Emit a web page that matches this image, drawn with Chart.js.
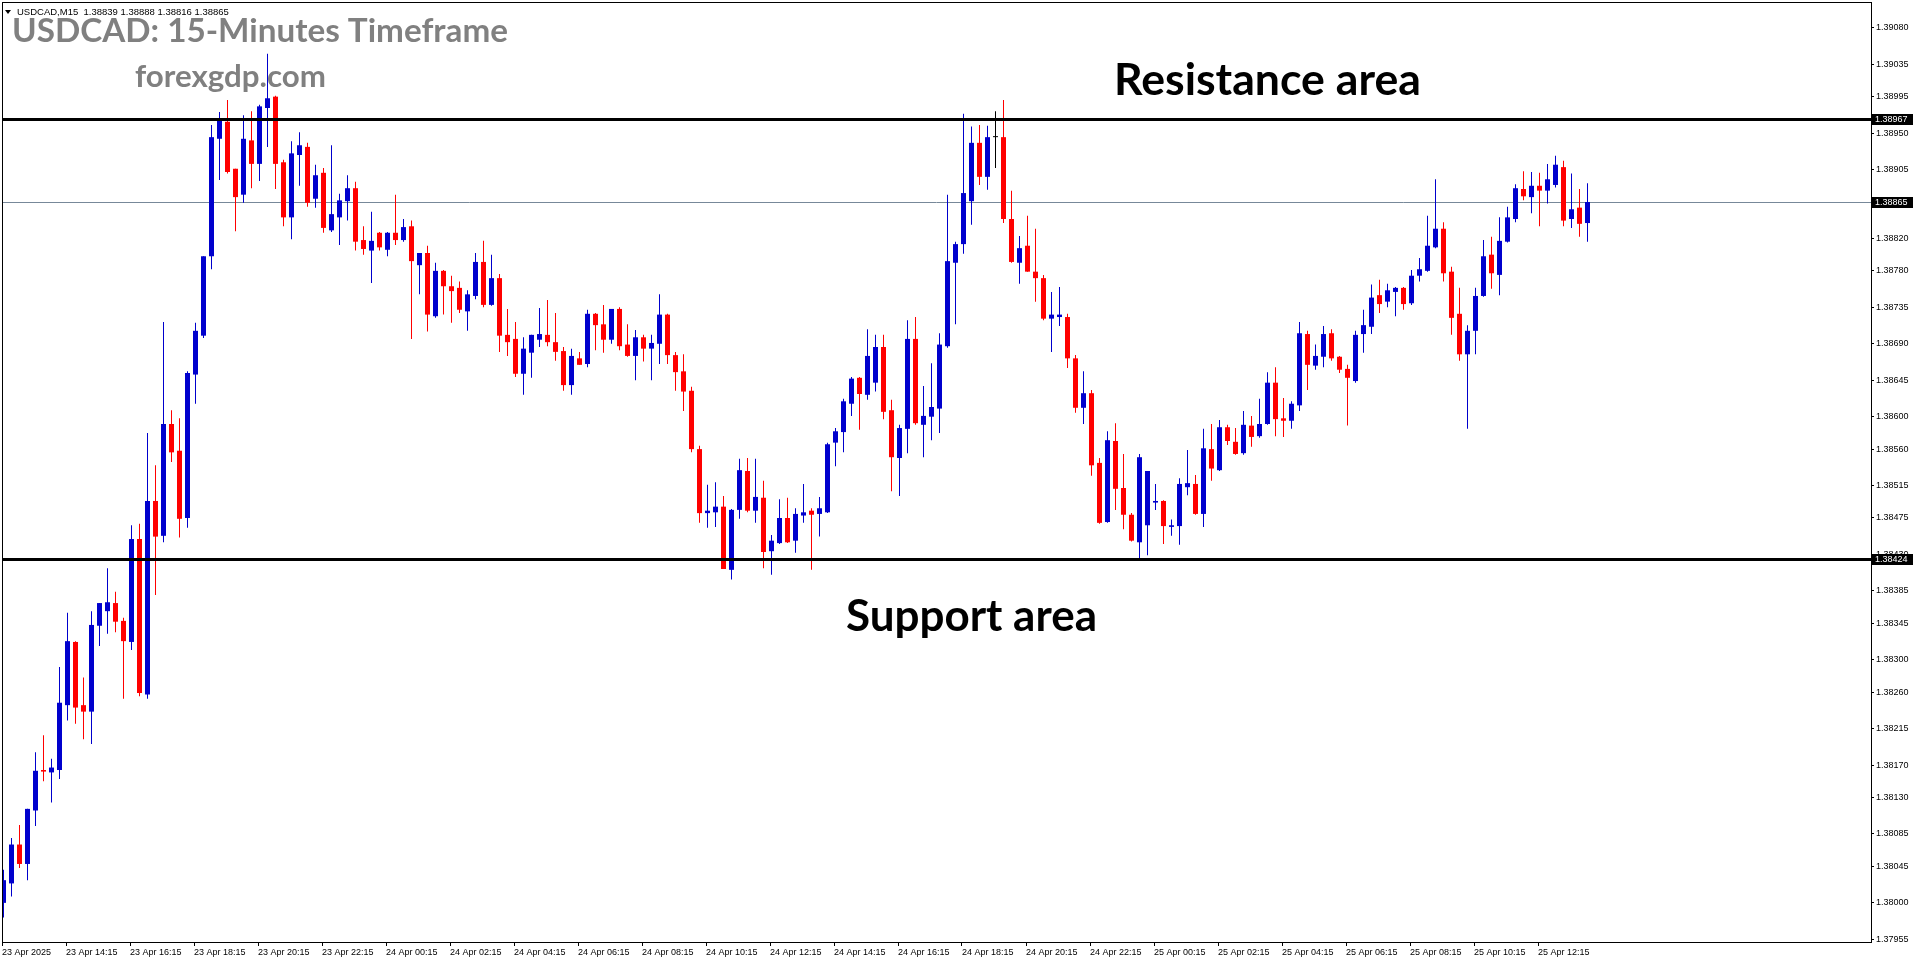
<!DOCTYPE html>
<html>
<head>
<meta charset="utf-8">
<title>USDCAD M15</title>
<script src="https://cdn.jsdelivr.net/npm/chart.js@4.4.1/dist/chart.umd.min.js"></script>
<style>
  html, body { margin: 0; padding: 0; background: #fff; overflow: hidden; }
  canvas { display: block; }
</style>
</head>
<body>
<canvas id="chart" width="1916" height="964"></canvas>
<script>
// 15-minute candles, 23 Apr 12:15 .. 25 Apr 13:45
const opens = [
  1.38000, 1.38024, 1.38072, 1.38048, 1.38114, 1.38164, 1.38161, 1.38164, 1.38244, 1.38322,
  1.38244, 1.38236, 1.38342, 1.38360, 1.38370, 1.38348, 1.38322, 1.38449, 1.38257, 1.38496,
  1.38453, 1.38591, 1.38558, 1.38475, 1.38652, 1.38700, 1.38798, 1.38943, 1.38964, 1.38906,
  1.38874, 1.38941, 1.38912, 1.38981, 1.38995, 1.38914, 1.38846, 1.38923, 1.38933, 1.38869,
  1.38901, 1.38830, 1.38846, 1.38866, 1.38882, 1.38818, 1.38805, 1.38827, 1.38806, 1.38827,
  1.38818, 1.38835, 1.38787, 1.38802, 1.38724, 1.38780, 1.38761, 1.38759, 1.38730, 1.38749,
  1.38791, 1.38738, 1.38771, 1.38701, 1.38696, 1.38653, 1.38679, 1.38695, 1.38701, 1.38692,
  1.38681, 1.38639, 1.38672, 1.38665, 1.38727, 1.38714, 1.38695, 1.38733, 1.38689, 1.38675,
  1.38698, 1.38684, 1.38690, 1.38726, 1.38676, 1.38656, 1.38632, 1.38560, 1.38481, 1.38482,
  1.38489, 1.38411, 1.38485, 1.38533, 1.38484, 1.38500, 1.38434, 1.38444, 1.38475, 1.38447,
  1.38478, 1.38484, 1.38480, 1.38482, 1.38568, 1.38581, 1.38616, 1.38648, 1.38627, 1.38642,
  1.38686, 1.38608, 1.38549, 1.38585, 1.38696, 1.38590, 1.38600, 1.38610, 1.38687, 1.38790,
  1.38813, 1.38866, 1.38938, 1.38896, 1.38945, 1.38945, 1.38844, 1.38790, 1.38811, 1.38779,
  1.38771, 1.38721, 1.38723, 1.38723, 1.38672, 1.38611, 1.38629, 1.38543, 1.38470, 1.38570,
  1.38512, 1.38479, 1.38445, 1.38466, 1.38494, 1.38496, 1.38464, 1.38465, 1.38513, 1.38517,
  1.38480, 1.38560, 1.38534, 1.38587, 1.38569, 1.38555, 1.38589, 1.38576, 1.38591, 1.38642,
  1.38598, 1.38595, 1.38614, 1.38702, 1.38663, 1.38674, 1.38703, 1.38674, 1.38659, 1.38644,
  1.38702, 1.38711, 1.38750, 1.38742, 1.38754, 1.38759, 1.38740, 1.38774, 1.38780, 1.38809,
  1.38832, 1.38779, 1.38727, 1.38677, 1.38706, 1.38749, 1.38800, 1.38775, 1.38816, 1.38844,
  1.38881, 1.38871, 1.38885, 1.38879, 1.38886, 1.38908, 1.38844, 1.38858, 1.38839
];
const highs = [
  1.38041, 1.38080, 1.38096, 1.38116, 1.38186, 1.38207, 1.38178, 1.38291, 1.38358, 1.38323,
  1.38278, 1.38360, 1.38370, 1.38413, 1.38384, 1.38352, 1.38466, 1.38468, 1.38580, 1.38540,
  1.38717, 1.38608, 1.38598, 1.38656, 1.38716, 1.38798, 1.38960, 1.38976, 1.38991, 1.38906,
  1.38972, 1.38977, 1.38985, 1.39048, 1.38996, 1.38917, 1.38940, 1.38951, 1.38938, 1.38911,
  1.38907, 1.38935, 1.38875, 1.38898, 1.38890, 1.38835, 1.38853, 1.38828, 1.38828, 1.38874,
  1.38844, 1.38842, 1.38802, 1.38811, 1.38790, 1.38781, 1.38774, 1.38767, 1.38756, 1.38802,
  1.38817, 1.38800, 1.38776, 1.38733, 1.38717, 1.38698, 1.38701, 1.38734, 1.38744, 1.38728,
  1.38686, 1.38684, 1.38680, 1.38732, 1.38728, 1.38738, 1.38733, 1.38735, 1.38714, 1.38707,
  1.38701, 1.38701, 1.38751, 1.38727, 1.38680, 1.38677, 1.38637, 1.38564, 1.38516, 1.38519,
  1.38502, 1.38486, 1.38548, 1.38549, 1.38548, 1.38521, 1.38454, 1.38498, 1.38500, 1.38487,
  1.38517, 1.38487, 1.38501, 1.38568, 1.38586, 1.38622, 1.38649, 1.38649, 1.38708, 1.38701,
  1.38701, 1.38621, 1.38590, 1.38719, 1.38723, 1.38638, 1.38666, 1.38703, 1.38874, 1.38816,
  1.38974, 1.38958, 1.38960, 1.38959, 1.38977, 1.38991, 1.38879, 1.38823, 1.38848, 1.38832,
  1.38775, 1.38754, 1.38760, 1.38727, 1.38676, 1.38656, 1.38633, 1.38549, 1.38582, 1.38592,
  1.38554, 1.38481, 1.38554, 1.38533, 1.38517, 1.38497, 1.38473, 1.38524, 1.38559, 1.38528,
  1.38585, 1.38591, 1.38596, 1.38590, 1.38586, 1.38607, 1.38601, 1.38622, 1.38655, 1.38661,
  1.38623, 1.38619, 1.38717, 1.38706, 1.38689, 1.38712, 1.38708, 1.38675, 1.38664, 1.38706,
  1.38732, 1.38763, 1.38769, 1.38764, 1.38760, 1.38760, 1.38781, 1.38796, 1.38848, 1.38893,
  1.38840, 1.38785, 1.38759, 1.38713, 1.38759, 1.38818, 1.38822, 1.38846, 1.38859, 1.38887,
  1.38903, 1.38902, 1.38901, 1.38912, 1.38922, 1.38916, 1.38900, 1.38881, 1.38888
];
const lows = [
  1.37982, 1.38008, 1.38043, 1.38028, 1.38095, 1.38150, 1.38124, 1.38153, 1.38225, 1.38221,
  1.38202, 1.38196, 1.38317, 1.38332, 1.38334, 1.38252, 1.38312, 1.38255, 1.38252, 1.38380,
  1.38445, 1.38544, 1.38451, 1.38463, 1.38616, 1.38697, 1.38782, 1.38892, 1.38900, 1.38829,
  1.38864, 1.38882, 1.38891, 1.38933, 1.38881, 1.38835, 1.38819, 1.38885, 1.38859, 1.38858,
  1.38827, 1.38828, 1.38812, 1.38842, 1.38805, 1.38800, 1.38765, 1.38805, 1.38798, 1.38812,
  1.38816, 1.38696, 1.38751, 1.38705, 1.38722, 1.38726, 1.38716, 1.38728, 1.38706, 1.38745,
  1.38735, 1.38737, 1.38680, 1.38675, 1.38649, 1.38627, 1.38648, 1.38686, 1.38687, 1.38669,
  1.38632, 1.38627, 1.38664, 1.38661, 1.38682, 1.38679, 1.38690, 1.38682, 1.38674, 1.38645,
  1.38668, 1.38645, 1.38665, 1.38665, 1.38632, 1.38607, 1.38556, 1.38469, 1.38463, 1.38464,
  1.38412, 1.38399, 1.38474, 1.38482, 1.38469, 1.38413, 1.38405, 1.38443, 1.38444, 1.38432,
  1.38469, 1.38411, 1.38452, 1.38481, 1.38539, 1.38556, 1.38601, 1.38584, 1.38621, 1.38631,
  1.38597, 1.38508, 1.38502, 1.38555, 1.38590, 1.38550, 1.38571, 1.38580, 1.38685, 1.38714,
  1.38801, 1.38837, 1.38886, 1.38880, 1.38907, 1.38839, 1.38790, 1.38764, 1.38779, 1.38742,
  1.38719, 1.38680, 1.38712, 1.38660, 1.38605, 1.38591, 1.38527, 1.38468, 1.38469, 1.38485,
  1.38461, 1.38446, 1.38423, 1.38429, 1.38485, 1.38443, 1.38453, 1.38442, 1.38503, 1.38479,
  1.38464, 1.38521, 1.38533, 1.38565, 1.38553, 1.38553, 1.38563, 1.38574, 1.38590, 1.38576,
  1.38575, 1.38585, 1.38607, 1.38633, 1.38658, 1.38661, 1.38669, 1.38654, 1.38589, 1.38642,
  1.38679, 1.38702, 1.38728, 1.38735, 1.38724, 1.38732, 1.38738, 1.38767, 1.38779, 1.38808,
  1.38767, 1.38701, 1.38669, 1.38585, 1.38677, 1.38748, 1.38758, 1.38750, 1.38815, 1.38840,
  1.38867, 1.38851, 1.38835, 1.38863, 1.38883, 1.38835, 1.38833, 1.38822, 1.38816
];
const closes = [
  1.38028, 1.38072, 1.38048, 1.38116, 1.38163, 1.38162, 1.38167, 1.38247, 1.38323, 1.38241,
  1.38236, 1.38343, 1.38370, 1.38371, 1.38347, 1.38323, 1.38449, 1.38259, 1.38496, 1.38452,
  1.38591, 1.38556, 1.38474, 1.38654, 1.38706, 1.38798, 1.38945, 1.38966, 1.38902, 1.38871,
  1.38943, 1.38912, 1.38983, 1.38993, 1.38912, 1.38846, 1.38925, 1.38935, 1.38864, 1.38898,
  1.38833, 1.38850, 1.38867, 1.38882, 1.38816, 1.38807, 1.38817, 1.38809, 1.38827, 1.38818,
  1.38834, 1.38792, 1.38802, 1.38726, 1.38780, 1.38761, 1.38755, 1.38732, 1.38751, 1.38791,
  1.38738, 1.38771, 1.38700, 1.38692, 1.38653, 1.38684, 1.38701, 1.38702, 1.38692, 1.38680,
  1.38639, 1.38675, 1.38664, 1.38727, 1.38713, 1.38695, 1.38733, 1.38687, 1.38675, 1.38698,
  1.38684, 1.38691, 1.38726, 1.38676, 1.38655, 1.38631, 1.38560, 1.38481, 1.38484, 1.38489,
  1.38412, 1.38485, 1.38534, 1.38484, 1.38501, 1.38433, 1.38447, 1.38475, 1.38445, 1.38480,
  1.38482, 1.38479, 1.38487, 1.38566, 1.38582, 1.38619, 1.38647, 1.38628, 1.38675, 1.38686,
  1.38606, 1.38550, 1.38586, 1.38696, 1.38592, 1.38601, 1.38612, 1.38689, 1.38792, 1.38813,
  1.38876, 1.38938, 1.38896, 1.38945, 1.38945, 1.38844, 1.38791, 1.38808, 1.38779, 1.38771,
  1.38721, 1.38726, 1.38726, 1.38672, 1.38611, 1.38629, 1.38540, 1.38469, 1.38571, 1.38511,
  1.38479, 1.38447, 1.38550, 1.38533, 1.38496, 1.38465, 1.38466, 1.38517, 1.38518, 1.38480,
  1.38561, 1.38536, 1.38587, 1.38570, 1.38554, 1.38590, 1.38575, 1.38591, 1.38642, 1.38597,
  1.38595, 1.38616, 1.38703, 1.38664, 1.38675, 1.38702, 1.38672, 1.38658, 1.38648, 1.38701,
  1.38713, 1.38747, 1.38739, 1.38756, 1.38759, 1.38739, 1.38774, 1.38782, 1.38811, 1.38832,
  1.38777, 1.38722, 1.38677, 1.38706, 1.38749, 1.38798, 1.38777, 1.38817, 1.38846, 1.38882,
  1.38872, 1.38885, 1.38879, 1.38893, 1.38911, 1.38842, 1.38856, 1.38838, 1.38865
];

// one label every 8 candles (2 hours)
const timeLabels = [
  '23 Apr 2025', '23 Apr 14:15', '23 Apr 16:15', '23 Apr 18:15', '23 Apr 20:15', '23 Apr 22:15',
  '24 Apr 00:15', '24 Apr 02:15', '24 Apr 04:15', '24 Apr 06:15', '24 Apr 08:15', '24 Apr 10:15',
  '24 Apr 12:15', '24 Apr 14:15', '24 Apr 16:15', '24 Apr 18:15', '24 Apr 20:15', '24 Apr 22:15',
  '25 Apr 00:15', '25 Apr 02:15', '25 Apr 04:15', '25 Apr 06:15', '25 Apr 08:15', '25 Apr 10:15',
  '25 Apr 12:15'
];
const candlesPerLabel = 8;

const priceTicks = [
  1.39080, 1.39035, 1.38995, 1.38950, 1.38905, 1.38865, 1.38820, 1.38780, 1.38735,
  1.38690, 1.38645, 1.38600, 1.38560, 1.38515, 1.38475, 1.38430, 1.38385, 1.38345,
  1.38300, 1.38260, 1.38215, 1.38170, 1.38130, 1.38085, 1.38045, 1.38000, 1.37955
];
const priceMin = 1.379517;
const priceMax = 1.391118;

const resistanceLevel = 1.38967;
const supportLevel = 1.38424;
const symbolName = 'USDCAD,M15';

const titleText = 'USDCAD: 15-Minutes Timeframe';
const siteText = 'forexgdp.com';
const resistanceText = 'Resistance area';
const supportText = 'Support area';

const bullColor = '#0000cd';
const bearColor = '#ff0000';
const dojiColor = '#000000';
const axisFont = '"Liberation Sans", "DejaVu Sans", sans-serif';
const bigFont = 'Lato, "Open Sans", sans-serif';

const last = closes.length - 1;
const candleColors = closes.map((c, i) => c > opens[i] ? bullColor : (c < opens[i] ? bearColor : dojiColor));
const bodies = closes.map((c, i) => ({ x: i, y: [opens[i], c] }));
const wicks = closes.map((c, i) => ({ x: i, y: [lows[i], highs[i]] }));

function fitSize(ctx, text, weight, family, width) {
  ctx.font = weight + ' 100px ' + family;
  return 100 * width / ctx.measureText(text).width;
}

function drawFitted(ctx, text, x, baseline, width, color) {
  const size = fitSize(ctx, text, 'bold', bigFont, width);
  ctx.font = 'bold ' + size.toFixed(2) + 'px ' + bigFont;
  ctx.fillStyle = color;
  ctx.textAlign = 'left';
  ctx.textBaseline = 'alphabetic';
  ctx.fillText(text, x, baseline);
}

function priceBox(ctx, x, py, value) {
  ctx.fillStyle = '#000';
  ctx.fillRect(x, Math.round(py) - 5, 41, 11);
  ctx.fillStyle = '#fff';
  ctx.font = '9px ' + axisFont;
  ctx.textAlign = 'left';
  ctx.textBaseline = 'middle';
  ctx.fillText(value.toFixed(5), x + 3, Math.round(py) + 0.5);
}

const overlay = {
  id: 'overlay',
  beforeDatasetsDraw(chart) {
    const { ctx, chartArea: a, scales: { y } } = chart;
    const py = Math.round(y.getPixelForValue(closes[last])) + 0.5;
    ctx.save();
    ctx.strokeStyle = '#778899';
    ctx.lineWidth = 1;
    ctx.beginPath();
    ctx.moveTo(a.left, py);
    ctx.lineTo(a.right, py);
    ctx.stroke();
    ctx.restore();
  },
  afterDatasetsDraw(chart) {
    const { ctx, chartArea: a, scales: { y } } = chart;
    ctx.save();
    ctx.fillStyle = '#000';
    [resistanceLevel, supportLevel].forEach(level => {
      const py = Math.round(y.getPixelForValue(level));
      ctx.fillRect(a.left, py - 1, a.right - a.left, 3);
    });

    // frame
    ctx.strokeStyle = '#000';
    ctx.lineWidth = 1;
    ctx.strokeRect(a.left + 0.5, a.top + 0.5, a.right - a.left, a.bottom - a.top);

    drawFitted(ctx, titleText, 12, 42, 496, '#808080');
    drawFitted(ctx, siteText, 135, 87, 191, '#808080');
    drawFitted(ctx, resistanceText, 1114, 95, 307, '#000');
    drawFitted(ctx, supportText, 846, 631, 251, '#000');
    ctx.restore();
  },
  afterDraw(chart) {
    const { ctx, chartArea: a, scales: { y } } = chart;
    ctx.save();
    priceBox(ctx, a.right + 1, y.getPixelForValue(resistanceLevel), resistanceLevel);
    priceBox(ctx, a.right + 1, y.getPixelForValue(supportLevel), supportLevel);
    priceBox(ctx, a.right + 1, y.getPixelForValue(closes[last]), closes[last]);

    // header line
    ctx.fillStyle = '#000';
    ctx.beginPath();
    ctx.moveTo(5, 10); ctx.lineTo(11, 10); ctx.lineTo(8, 14); ctx.closePath();
    ctx.fill();
    ctx.font = '9.5px ' + axisFont;
    ctx.textAlign = 'left';
    ctx.textBaseline = 'middle';
    const ohlc = [opens[last], highs[last], lows[last], closes[last]].map(v => v.toFixed(5)).join(' ');
    ctx.fillText(symbolName + '  ' + ohlc, 17, 12);
    ctx.restore();
  }
};

new Chart(document.getElementById('chart').getContext('2d'), {
  type: 'bar',
  data: {
    datasets: [
      {
        label: 'Body',
        data: bodies,
        backgroundColor: candleColors,
        barThickness: 5,
        minBarLength: 1,
        inflateAmount: 0,
        borderWidth: 0,
        grouped: false
      },
      {
        label: 'Wick',
        data: wicks,
        backgroundColor: candleColors,
        barThickness: 1,
        minBarLength: 1,
        inflateAmount: 0,
        borderWidth: 0,
        grouped: false
      }
    ]
  },
  options: {
    responsive: false,
    animation: false,
    devicePixelRatio: 1,
    layout: { padding: { left: 2, top: 2, right: 0, bottom: 0 } },
    plugins: { legend: { display: false }, tooltip: { enabled: false } },
    scales: {
      x: {
        type: 'linear',
        min: -0.1875,
        max: 233.4375,
        offset: false,
        afterBuildTicks: s => { s.ticks = timeLabels.map((_, k) => ({ value: k * candlesPerLabel - 0.1875 })); },
        afterFit: s => { s.height = 22; s.paddingLeft = 0; s.paddingRight = 0; },
        grid: { offset: false, drawOnChartArea: false, drawTicks: true, tickLength: 4, color: '#000' },
        border: { display: false },
        ticks: {
          align: 'start',
          autoSkip: false,
          maxRotation: 0,
          padding: 1,
          color: '#000',
          font: { family: axisFont, size: 9 },
          callback: (v, k) => timeLabels[k]
        }
      },
      y: {
        type: 'linear',
        position: 'right',
        min: priceMin,
        max: priceMax,
        afterBuildTicks: s => { s.ticks = priceTicks.map(v => ({ value: v })); },
        afterFit: s => { s.width = 45; s.paddingTop = 0; s.paddingBottom = 0; },
        grid: { drawOnChartArea: false, drawTicks: true, tickLength: 3, color: '#000' },
        border: { display: false },
        ticks: {
          autoSkip: false,
          padding: 2,
          color: '#000',
          font: { family: axisFont, size: 9 },
          callback: v => v.toFixed(5)
        }
      }
    }
  },
  plugins: [overlay]
});
</script>
</body>
</html>
